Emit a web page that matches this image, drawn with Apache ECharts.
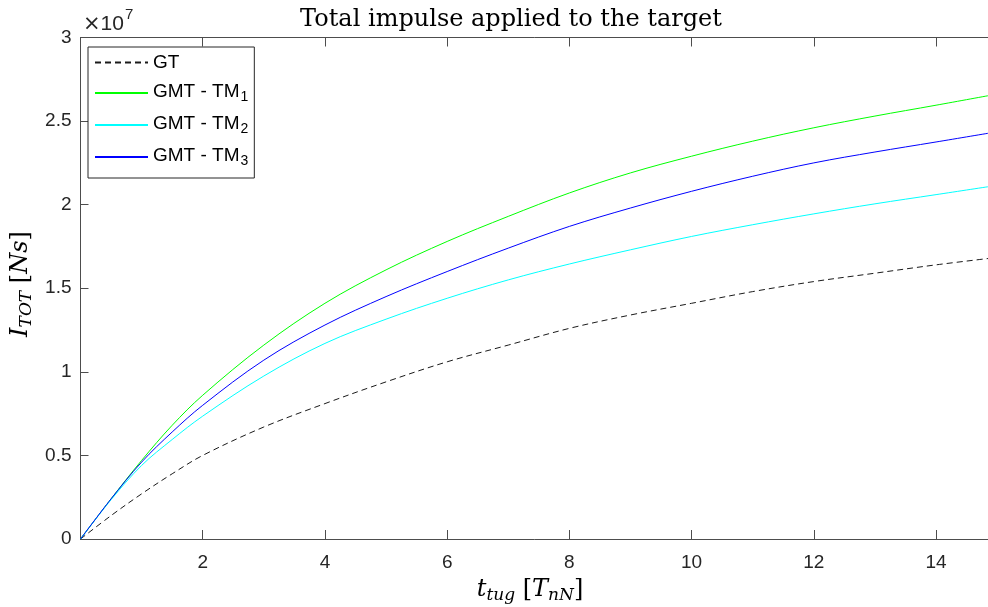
<!DOCTYPE html>
<html>
<head>
<meta charset="utf-8">
<script src="https://cdn.jsdelivr.net/npm/echarts@6/dist/echarts.min.js"></script>
<style>
  html, body { margin: 0; padding: 0; background: #ffffff; }
  #chart { width: 988px; height: 607px; }
</style>
</head>
<body>
<div id="chart"></div>
<script>
// Tug duration, in units of T_nN
const tugTime = [0, 0.5, 1, 1.5, 2, 3, 4, 5, 6, 7, 8, 9, 10, 11, 12, 13, 14, 14.9];

// Total impulse, in units of 10^7 N s
const impulseGT  = [0, 0.14, 0.27, 0.39, 0.50, 0.67, 0.81, 0.94, 1.06, 1.16, 1.26, 1.34, 1.41, 1.48, 1.54, 1.59, 1.64, 1.68];
const impulseTM1 = [0, 0.24, 0.47, 0.68, 0.86, 1.16, 1.41, 1.61, 1.78, 1.93, 2.07, 2.19, 2.29, 2.38, 2.46, 2.53, 2.595, 2.655];
const impulseTM2 = [0, 0.235, 0.44, 0.595, 0.735, 0.975, 1.17, 1.315, 1.44, 1.55, 1.645, 1.73, 1.81, 1.88, 1.945, 2.005, 2.06, 2.11];
const impulseTM3 = [0, 0.24, 0.46, 0.64, 0.80, 1.07, 1.28, 1.45, 1.60, 1.74, 1.87, 1.98, 2.08, 2.17, 2.25, 2.315, 2.375, 2.43];

const xRange = [0, 14.85];
const yTicks = [0, 0.5, 1, 1.5, 2, 2.5, 3];
const seriesNames = ['GT', 'GMT - TM1', 'GMT - TM2', 'GMT - TM3'];

const pairs = ys => tugTime.map((t, i) => [t, ys[i]]);

const AX = '#4d4d4d';
const TXT = '#262626';
const SANS = '"Liberation Sans", Arial, sans-serif';
const SERIF = '"DejaVu Serif", "Liberation Serif", serif';

const chart = echarts.init(document.getElementById('chart'), null, { renderer: 'canvas' });

const line = (name, data, color, type) => ({
  name, type: 'line', data, smooth: 0.35, symbol: 'none', showSymbol: false,
  clip: true, animation: false,
  lineStyle: { color, width: 1, type: type || 'solid', dashOffset: 0 },
  itemStyle: { color }
});

const xAxisBase = {
  type: 'value', min: xRange[0], max: xRange[1], interval: 2,
  axisLine: { show: true, onZero: false, lineStyle: { color: AX, width: 1 } },
  axisTick: { show: true, inside: true, length: 9, lineStyle: { color: AX } },
  splitLine: { show: false }
};

// math-style label: italic symbols, roman brackets, lowered subscripts
const mathRich = (size, subSize, drop) => ({
  v: { fontFamily: SERIF, fontStyle: 'italic', fontSize: size, lineHeight: size + 2, verticalAlign: 'top', fill: '#000' },
  r: { fontFamily: SERIF, fontSize: size, lineHeight: size + 2, verticalAlign: 'top', fill: '#000' },
  s: { fontFamily: SERIF, fontStyle: 'italic', fontSize: subSize, lineHeight: subSize, padding: [drop, 0, 0, 0], verticalAlign: 'bottom', fill: '#000' }
});

chart.setOption({
  animation: false,
  backgroundColor: '#ffffff',
  grid: {
    left: 80.5, top: 37.5, right: 0, bottom: 68,
    show: false, containLabel: false, outerBoundsMode: 'none'
  },
  xAxis: [Object.assign({}, xAxisBase, {
    axisLabel: {
      show: true, margin: 14, color: TXT, fontFamily: SANS, fontSize: 19,
      showMinLabel: false, showMaxLabel: false,
      formatter: v => (v === 0 ? '' : String(v))
    }
  }), Object.assign({}, xAxisBase, {
    position: 'top',
    axisLabel: { show: false }
  })],
  yAxis: {
    type: 'value', min: yTicks[0], max: yTicks[yTicks.length - 1], interval: 0.5,
    axisLine: { show: true, onZero: false, lineStyle: { color: AX, width: 1 } },
    axisTick: { show: true, inside: true, length: 8, lineStyle: { color: AX } },
    axisLabel: {
      show: true, margin: 9, color: TXT, fontFamily: SANS, fontSize: 19,
      formatter: v => String(v)
    },
    splitLine: { show: false }
  },
  legend: {
    show: true, orient: 'vertical', left: 88, top: 47,
    data: seriesNames,
    backgroundColor: '#ffffff',
    borderColor: '#262626', borderWidth: 1, borderRadius: 0,
    padding: [6, 6, 10, 6],
    itemWidth: 53, itemHeight: 14, itemGap: 4,
    selectedMode: false,
    itemStyle: { color: 'rgba(0,0,0,0)', borderColor: 'rgba(0,0,0,0)', borderWidth: 0 },
    formatter: name => {
      const m = name.match(/^(.*TM)(\d)$/);
      return m ? '{n|' + m[1] + '}{s|' + m[2] + '}' : '{g|' + name + '}';
    },
    textStyle: {
      color: '#000000', fontFamily: SANS, fontSize: 19,
      rich: {
        g: { fontFamily: SANS, fontSize: 19, lineHeight: 22, color: '#000' },
        n: { fontFamily: SANS, fontSize: 19, lineHeight: 22, verticalAlign: 'top', color: '#000' },
        s: { fontFamily: SANS, fontSize: 14, lineHeight: 14, padding: [14, 0, 0, 1], verticalAlign: 'bottom', color: '#000' }
      }
    }
  },
  series: [
    line(seriesNames[0], pairs(impulseGT), '#1a1a1a', [6, 4]),
    line(seriesNames[1], pairs(impulseTM1), '#00ff00'),
    line(seriesNames[2], pairs(impulseTM2), '#00ffff'),
    line(seriesNames[3], pairs(impulseTM3), '#0000ff')
  ],
  graphic: [
    {
      type: 'text', x: 511, y: 20, silent: true,
      style: {
        text: 'Total impulse applied to the target',
        font: '24px ' + SERIF, fill: '#000', align: 'center', verticalAlign: 'middle'
      }
    },
    {
      type: 'text', x: 83, y: 7, silent: true,
      style: {
        text: '{x|\u00d7}{m|10}{e|7}',
        fill: TXT, align: 'left', verticalAlign: 'top',
        rich: {
          x: { fontFamily: '"DejaVu Sans", sans-serif', fontSize: 21, lineHeight: 28, verticalAlign: 'bottom', fill: TXT },
          m: { fontFamily: SANS, fontSize: 21, lineHeight: 28, verticalAlign: 'bottom', fill: TXT },
          e: { fontFamily: SANS, fontSize: 15, lineHeight: 15, padding: [0, 0, 12, 1], verticalAlign: 'top', fill: TXT }
        }
      }
    },
    {
      type: 'text', x: 530, y: 591, silent: true,
      style: {
        text: '{v|t}{s|tug}{r| [}{v|T}{s|nN}{r|]}',
        align: 'center', verticalAlign: 'middle', fill: '#000',
        rich: mathRich(24, 17, 14)
      }
    },
    {
      type: 'text', x: 22, y: 284, rotation: Math.PI / 2, silent: true,
      style: {
        text: '{v|I}{s|TOT}{r| [}{v|Ns}{r|]}',
        align: 'center', verticalAlign: 'middle', fill: '#000',
        rich: mathRich(24, 17, 14)
      }
    }
  ]
});
</script>
</body>
</html>
